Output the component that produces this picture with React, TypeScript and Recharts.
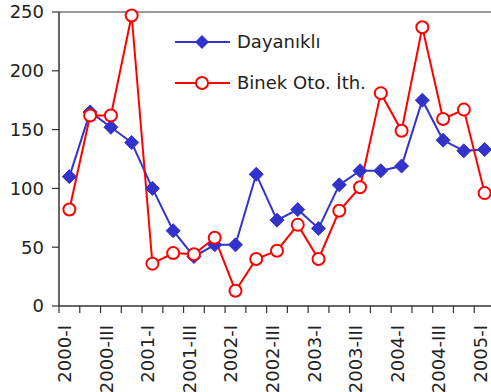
import { LineChart, Line, XAxis, YAxis, ReferenceLine, Legend } from "recharts";

const quarters = [
  "2000-I", "2000-II", "2000-III", "2000-IV",
  "2001-I", "2001-II", "2001-III", "2001-IV",
  "2002-I", "2002-II", "2002-III", "2002-IV",
  "2003-I", "2003-II", "2003-III", "2003-IV",
  "2004-I", "2004-II", "2004-III", "2004-IV",
  "2005-I",
];
const dayanikli = [110, 165, 152, 139, 100, 64, 42, 52, 52, 112, 73, 82, 66, 103, 115, 115, 119, 175, 141, 132, 133];
const binek = [82, 162, 162, 247, 36, 45, 44, 58, 13, 40, 47, 69, 40, 81, 101, 181, 149, 237, 159, 167, 96];
const yTicks = [0, 50, 100, 150, 200, 250];

const data = quarters.map((q, i) => ({ q, dayanikli: dayanikli[i], binek: binek[i] }));

const W = 500;
const H = 392;
const Y_W = 59;
const margin = { top: 12, right: 5, bottom: 0, left: 0 };
const band = (W - Y_W - margin.right) / quarters.length;
const FONT = "DejaVu Sans";
const BLUE = "#3333CC";
const RED = "#FF0000";
const AXIS = "#333";

function XTick(props: any) {
  const { x, y, payload, index } = props;
  const i = payload?.index ?? index;
  return (
    <g>
      <line x1={x - band / 2} x2={x - band / 2} y1={y - 7} y2={y} stroke={AXIS} strokeWidth={1.2} />
      {i === quarters.length - 1 && (
        <line x1={x + band / 2} x2={x + band / 2} y1={y - 7} y2={y} stroke={AXIS} strokeWidth={1.2} />
      )}
      {i % 2 === 0 && (
        <text
          x={x + 2}
          y={y + 12}
          transform={`rotate(-90 ${x + 2} ${y + 12})`}
          textAnchor="end"
          fontSize={18}
          fontFamily={FONT}
          fill="#222"
        >
          {payload.value}
        </text>
      )}
    </g>
  );
}

function Diamond(props: any) {
  const { cx, cy, index } = props;
  const s = 7;
  return (
    <path
      key={`d-${index}`}
      d={`M${cx},${cy - s}L${cx + s},${cy}L${cx},${cy + s}L${cx - s},${cy}Z`}
      fill={BLUE}
      stroke={BLUE}
    />
  );
}

function Ring(props: any) {
  const { cx, cy, index } = props;
  return <circle key={`c-${index}`} cx={cx} cy={cy} r={6} fill="#fff" stroke={RED} strokeWidth={2} />;
}

function LegendBox() {
  return (
    <svg width={220} height={80} style={{ display: "block" }}>
      <line x1={5} x2={60} y1={20} y2={20} stroke={BLUE} strokeWidth={2} />
      <path d="M32,13L39,20L32,27L25,20Z" fill={BLUE} />
      <text x={67} y={26} fontSize={18} fontFamily={FONT} fill="#222">Dayanıklı</text>
      <line x1={5} x2={60} y1={61} y2={61} stroke={RED} strokeWidth={2} />
      <circle cx={32} cy={61} r={6} fill="#fff" stroke={RED} strokeWidth={2} />
      <text x={67} y={67} fontSize={18} fontFamily={FONT} fill="#222">Binek Oto. İth.</text>
    </svg>
  );
}

export default function App() {
  return (
    <div style={{ position: "absolute", left: 0, top: 0, width: 491, height: 392, overflow: "hidden", background: "#fff" }}>
      <LineChart width={W} height={H} data={data} margin={margin} style={{ fontFamily: FONT }}>
        <XAxis
          dataKey="q"
          interval={0}
          height={86}
          tickLine={false}
          tickSize={7}
          tickMargin={0}
          padding={{ left: band / 2, right: band / 2 }}
          axisLine={{ stroke: AXIS, strokeWidth: 1.5 }}
          tick={<XTick />}
        />
        <YAxis
          width={Y_W}
          domain={[0, 250]}
          ticks={yTicks}
          tickSize={7}
          tickMargin={8}
          axisLine={{ stroke: AXIS, strokeWidth: 1.5 }}
          tickLine={{ stroke: AXIS, strokeWidth: 1.2 }}
          tick={{ fontSize: 18, fill: "#222", fontFamily: FONT }}
        />
        <ReferenceLine y={250} stroke="#999" strokeWidth={2} />
        <Legend
          layout="vertical"
          align="center"
          verticalAlign="middle"
          wrapperStyle={{ left: 170, top: 22, width: 220, height: 80 }}
          content={() => <LegendBox />}
        />
        <Line
          type="linear"
          dataKey="dayanikli"
          stroke={BLUE}
          strokeWidth={2}
          dot={Diamond}
          activeDot={false}
          isAnimationActive={false}
        />
        <Line
          type="linear"
          dataKey="binek"
          stroke={RED}
          strokeWidth={2}
          dot={Ring}
          activeDot={false}
          isAnimationActive={false}
        />
      </LineChart>
    </div>
  );
}
